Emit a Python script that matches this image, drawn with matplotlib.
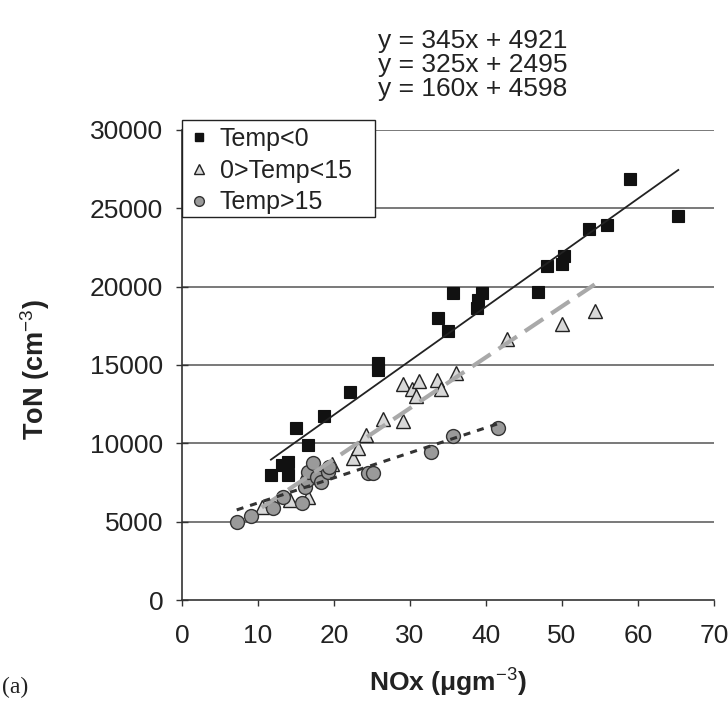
import matplotlib
matplotlib.use("Agg")
import matplotlib.pyplot as plt
from matplotlib.lines import Line2D
from matplotlib.patches import Rectangle
import numpy as np

plt.rcParams['font.family'] = ['Liberation Sans', 'DejaVu Sans']
plt.rcParams['mathtext.fontset'] = 'custom'
plt.rcParams['mathtext.rm'] = 'Liberation Sans'
plt.rcParams['mathtext.bf'] = 'Liberation Sans:bold'
plt.rcParams['mathtext.it'] = 'Liberation Sans:italic'

# ---- data ----
cold_x = [11.7, 13.2, 13.9, 13.9, 15.0, 16.6, 18.7, 22.1, 25.8, 25.8, 33.7, 35.0,
          35.7, 38.8, 38.9, 39.5, 46.8, 48.0, 50.0, 50.3, 53.6, 55.9, 59.0, 65.3]
cold_y = [7980, 8620, 8810, 7980, 10980, 9900, 11750, 13280, 15130, 14690, 18010, 17180,
          19600, 18650, 19160, 19600, 19670, 21330, 21460, 21970, 23690, 23950, 26890, 24520]

mid_x = [10.5, 14.2, 16.6, 16.4, 19.7, 22.5, 23.2, 24.2, 26.4, 29.1, 29.1, 30.3,
         30.8, 31.2, 33.6, 34.1, 36.1, 42.8, 50.0, 54.3]
mid_y = [5950, 6400, 6600, 7850, 8650, 9070, 9710, 10540, 11560, 11450, 13800, 13450,
         13000, 13950, 14050, 13450, 14500, 16650, 17600, 18450]

warm_x = [7.2, 9.1, 12.0, 13.3, 15.8, 16.2, 16.4, 16.6, 17.2, 17.8, 18.3, 19.2,
          19.3, 24.5, 25.1, 32.8, 35.7, 41.6]
warm_y = [4980, 5330, 5850, 6550, 6220, 7220, 7650, 8150, 8750, 7850, 7550, 8200,
          8500, 8100, 8100, 9450, 10500, 10950]

labels = ['Temp<0', '0>Temp<15', 'Temp>15']
equations = ['y = 345x + 4921', 'y = 325x + 2495', 'y = 160x + 4598']
fits = [(345, 4921), (325, 2495), (160, 4598)]

xticks = [0, 10, 20, 30, 40, 50, 60, 70]
yticks = [0, 5000, 10000, 15000, 20000, 25000, 30000]

W, H = 728, 702
fig = plt.figure(figsize=(W / 100, H / 100), dpi=100)
ax = fig.add_axes([182 / W, 1 - 600 / H, (714 - 182) / W, (600 - 130) / H])

ax.set_xlim(0, 70)
ax.set_ylim(0, 30000)

# grid lines
for yv in yticks[1:]:
    ax.axhline(yv, color='#555555', lw=1.1, zorder=1)

# scatter points
ax.plot(cold_x, cold_y, 's', ms=8.5, mfc='#111111', mec='#111111', mew=0.8, zorder=3)
ax.plot(mid_x, mid_y, '^', ms=9.5, mfc='#d8d8d8', mec='#222222', mew=1.0, zorder=3)
ax.plot(warm_x, warm_y, 'o', ms=10, mfc='#9a9a9a', mec='#333333', mew=1.0, zorder=3)

# trend lines
def fitline(xs, coef):
    xx = np.array([min(xs), max(xs)])
    return xx, coef[0] * xx + coef[1]

xx, yy = fitline(cold_x, fits[0])
ax.plot(xx, yy, '-', color='#222222', lw=1.3, zorder=4)
xx, yy = fitline(mid_x, fits[1])
ax.plot(xx, yy, color='#a9a9a9', lw=3, dashes=(5.3, 2.3), zorder=4)
xx, yy = fitline(warm_x, fits[2])
ax.plot(xx, yy, color='#333333', lw=2.2, dashes=(2.3, 2.3), zorder=4)

# spines and ticks
for s in ['top', 'right']:
    ax.spines[s].set_visible(False)
for s in ['left', 'bottom']:
    ax.spines[s].set_color('#333333')
    ax.spines[s].set_linewidth(1.2)
ax.set_xticks(xticks)
ax.set_yticks(yticks)
ax.set_xticklabels([str(v) for v in xticks])
ax.set_yticklabels([str(v) for v in yticks])
ax.tick_params(axis='x', direction='out', length=4.5, width=1, color='#333333',
               labelsize=19, pad=13, labelcolor='#222222')
ax.tick_params(axis='y', direction='inout', length=9, width=1, color='#333333',
               labelsize=19, pad=9, labelcolor='#222222')

# axis labels
fig.text(35 / W, 1 - 370 / H, r'ToN (cm$^{\mathrm{-3}}$)', rotation=90, fontsize=19.5,
         fontweight='bold', ha='center', va='center', color='#222222')
fig.text(448 / W, 1 - 683 / H, 'NOx (\u03bcgm$^{\\mathrm{-3}}$)', fontsize=19,
         fontweight='bold', ha='center', va='center', color='#222222')
fig.text(2 / W, 1 - 687 / H, '(a)', fontsize=17, family='Liberation Serif',
         ha='left', va='center', color='#222222')

# equations
for i, eq in enumerate(equations):
    fig.text(378 / W, 1 - (41 + 24 * i) / H, eq, fontsize=19, ha='left', va='center',
             color='#222222')

# legend box
box = Rectangle((182 / W, 1 - 217 / H), (375 - 182) / W, (217 - 120) / H,
                transform=fig.transFigure, facecolor='white', edgecolor='#222222',
                lw=1.0, zorder=4)
fig.patches.append(box)

handles = [
    Line2D([], [], ls='none', marker='s', ms=6, mfc='#111111', mec='#111111'),
    Line2D([], [], ls='none', marker='^', ms=7, mfc='#d8d8d8', mec='#222222'),
    Line2D([], [], ls='none', marker='o', ms=7, mfc='#9a9a9a', mec='#333333'),
]
leg = fig.legend(handles, labels, loc='upper left', bbox_to_anchor=(186 / W, 1 - 122 / H),
                 frameon=False, fontsize=18, handlelength=0.6, handletextpad=0.55,
                 labelspacing=0.31, borderpad=0.2, borderaxespad=0)
leg.set_zorder(5)
for t in leg.get_texts():
    t.set_color('#222222')

fig.savefig('out.png', dpi=100)
